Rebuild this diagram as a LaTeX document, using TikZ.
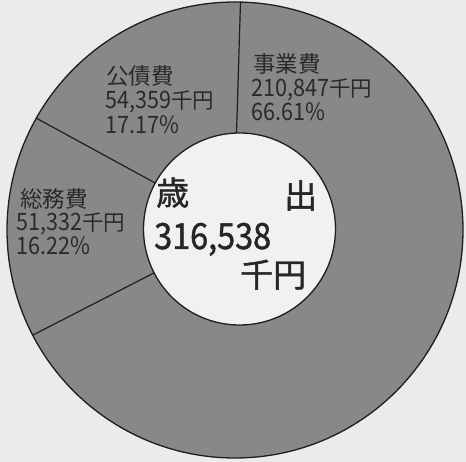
\documentclass[tikz,border=0pt]{standalone}
\usepackage{fontspec}
\setmainfont{Noto Sans CJK JP}
\newfontfamily\dgfont[FakeStretch=0.9]{Noto Sans CJK JP}
\newfontfamily\cenfont[FakeBold=1.2]{Noto Sans CJK JP}
\newfontfamily\cendgfont[FakeStretch=0.9,FakeBold=1.2]{Noto Sans CJK JP}
\newcommand\ldg[1]{{\dgfont\fontsize{24}{24}\selectfont #1}}
\newcommand\yen{{\fontsize{21.5}{21.5}\selectfont 千円}}
\newcommand\cdg[1]{{\cendgfont\fontsize{36}{36}\selectfont #1}}
\definecolor{bgc}{HTML}{EBEBEB}
\definecolor{slicec}{HTML}{888888}
\definecolor{holec}{HTML}{F1F1F1}
\definecolor{ink}{HTML}{2A2A2A}
\definecolor{linec}{HTML}{1E1E1E}
\tikzset{
  ring/.style={draw=linec, line width=1.3pt},
  divider/.style={draw=linec, line width=1.2pt},
  lab/.style={anchor=base west, inner sep=0pt, text=ink, text height=16pt, text depth=1pt,
    font=\fontsize{22.5}{22.5}\selectfont},
  cen/.style={anchor=base west, inner sep=0pt, text=black!85, text height=24pt, text depth=1pt,
    font=\cenfont\fontsize{33}{33}\selectfont},
}
\begin{document}
\begin{tikzpicture}[x=1pt,y=-1pt]
\useasboundingbox (0,0) rectangle (466,462);
\fill[bgc] (0,0) rectangle (466,462);
\coordinate (O) at (235,230);
\coordinate (I) at (239.5,229);
% outer disc
\fill[slicec] (O) circle[radius=228pt];
\draw[ring] (O) circle[radius=228pt];
% dividers
\coordinate (d1o) at (240.5,2);
\coordinate (d1i) at (236,150);
\coordinate (d2o) at (36,118);
\coordinate (d3o) at (33,335);
\draw[divider] (d1o) -- (d1i);
\draw[divider] (d2o) -- (I);
\draw[divider] (d3o) -- (I);
% hole
\fill[holec] (I) circle[radius=96pt];
\draw[ring] (I) circle[radius=96pt];
% labels
\node[lab] (j1) at (253,72.5) {事業費};
\node[lab] (j2) at (251,96.5) {\ldg{210,847}\yen};
\node[lab] (j3) at (251,121) {\ldg{66.61\%}};
\node[lab] (k1) at (106,85) {公債費};
\node[lab] (k2) at (105,109) {\ldg{54,359}\yen};
\node[lab] (k3) at (105,133.5) {\ldg{17.17\%}};
\node[lab] (s1) at (20,207.5) {総務費};
\node[lab] (s2) at (16,231) {\ldg{51,332}\yen};
\node[lab] (s3) at (16,254.5) {\ldg{16.22\%}};
% centre
\node[cen] (c1) at (156,205) {歳};
\node[cen] (c2) at (284,208) {出};
\node[cen] (c3) at (154,249) {\cdg{316,538}};
\node[cen] (c4) at (240,287) {千円};
\end{tikzpicture}
\end{document}
